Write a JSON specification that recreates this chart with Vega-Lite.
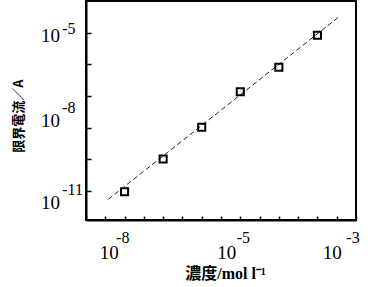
{
  "$schema": "https://vega.github.io/schema/vega-lite/v6.json",
  "width": 270,
  "height": 219,
  "autosize": "none",
  "padding": {"left": 86, "top": 1, "right": 14, "bottom": 67},
  "background": "white",
  "view": {"stroke": "black", "strokeWidth": 2},
  "config": {"axis": {"grid": false}},
  "datasets": {
    "pts": [
      {"conc": 1e-8, "current": 9.5e-11},
      {"conc": 1e-7, "current": 1.02e-9},
      {"conc": 1e-6, "current": 1.03e-8},
      {"conc": 1e-5, "current": 1.36e-7},
      {"conc": 1e-4, "current": 8.05e-7},
      {"conc": 1e-3, "current": 8.26e-6}
    ],
    "fit": [
      {"conc": 3.79e-9, "current": 5.46e-11},
      {"conc": 3.47e-3, "current": 3.05e-5}
    ]
  },
  "layer": [
    {
      "data": {"name": "fit"},
      "mark": {"type": "line", "stroke": "#222", "strokeWidth": 1, "strokeDash": [5, 3]},
      "encoding": {
        "x": {
          "field": "conc", "type": "quantitative",
          "scale": {"type": "log", "domain": [1e-9, 1e-2], "nice": false},
          "axis": {
            "orient": "bottom",
            "values": [1e-9, 3.1623e-9, 1e-8, 3.1623e-8, 1e-7, 3.1623e-7, 1e-6, 3.1623e-6, 1e-5, 3.1623e-5, 1e-4, 3.1623e-4, 1e-3, 3.1623e-3, 1e-2],
            "labels": false,
            "tickSize": -4, "tickWidth": 1.5, "tickColor": "black",
            "domainColor": "black", "domainWidth": 2,
            "title": "濃度/mol l⁻¹",
            "titleFont": "Liberation Serif, Noto Sans CJK JP",
            "titleFontSize": 16, "titleFontWeight": "bold", "titleColor": "black",
            "titleX": 139, "titleY": 53, "titleAlign": "center", "titleBaseline": "middle", "titleAngle": 0
          }
        },
        "y": {
          "field": "current", "type": "quantitative",
          "scale": {"type": "log", "domain": [1.21e-11, 1e-4], "nice": false},
          "axis": {
            "orient": "left",
            "values": [1e-5, 1e-6, 1e-7, 1e-8, 1e-9, 1e-10],
            "labels": false,
            "tickSize": -5, "tickWidth": 1.5, "tickColor": "black",
            "domainColor": "black", "domainWidth": 2,
            "title": "限界電流／A",
            "titleFont": "Noto Sans CJK JP",
            "titleFontSize": 13, "titleFontWeight": "bold", "titleColor": "black",
            "titleX": -67.7, "titleY": 114.7, "titleAlign": "center", "titleBaseline": "middle", "titleAngle": -90
          }
        }
      }
    },
    {
      "data": {"name": "pts"},
      "mark": {"type": "point", "shape": "square", "filled": false, "stroke": "black", "strokeWidth": 2, "size": 50, "opacity": 1},
      "encoding": {
        "x": {
          "field": "conc", "type": "quantitative",
          "axis": {
            "orient": "bottom",
            "values": [3.88e-9, 5.85e-9, 4.33e-6, 7.83e-6, 2.34e-3, 5.45e-3],
            "ticks": false, "domain": false, "title": null,
            "labelFlush": false, "labelOverlap": false, "labelBound": false,
            "labelFont": "Liberation Serif", "labelColor": "black",
            "labelBaseline": "middle",
            "labelExpr": "datum.value < 5e-9 ? '10' : datum.value < 1e-8 ? '-8' : datum.value < 6e-6 ? '10' : datum.value < 1e-5 ? '-5' : datum.value < 4e-3 ? '10' : '-3'",
            "labelAlign": {"condition": {"test": "datum.value < 5e-9 || (datum.value > 1e-6 && datum.value < 6e-6) || (datum.value > 1e-3 && datum.value < 4e-3)", "value": "center"}, "value": "left"},
            "labelPadding": {"condition": {"test": "datum.value < 5e-9 || (datum.value > 1e-6 && datum.value < 6e-6) || (datum.value > 1e-3 && datum.value < 4e-3)", "value": 32}, "value": 17},
            "labelFontSize": {"condition": {"test": "datum.value < 5e-9 || (datum.value > 1e-6 && datum.value < 6e-6) || (datum.value > 1e-3 && datum.value < 4e-3)", "value": 19}, "value": 16}
          }
        },
        "y": {
          "field": "current", "type": "quantitative",
          "axis": {
            "orient": "left",
            "values": [7.96e-6, 1.306e-5, 1.74e-8, 4.33e-8, 4.17e-11, 1.153e-10],
            "ticks": false, "domain": false, "title": null,
            "labelFlush": false, "labelOverlap": false, "labelBound": false,
            "labelFont": "Liberation Serif", "labelColor": "black",
            "labelBaseline": "middle",
            "labelExpr": "((datum.value > 7e-6 && datum.value < 9e-6) || (datum.value > 1e-8 && datum.value < 2e-8) || datum.value < 5e-11) ? '10' : datum.value > 1e-5 ? '-5' : datum.value > 1e-8 ? '-8' : '-11'",
            "labelAlign": {"condition": {"test": "(datum.value > 7e-6 && datum.value < 9e-6) || (datum.value > 1e-8 && datum.value < 2e-8) || datum.value < 5e-11", "value": "right"}, "value": "left"},
            "labelPadding": {"condition": {"test": "(datum.value > 7e-6 && datum.value < 9e-6) || (datum.value > 1e-8 && datum.value < 2e-8) || datum.value < 5e-11", "value": 26.5}, "value": 24.3},
            "labelFontSize": {"condition": {"test": "(datum.value > 7e-6 && datum.value < 9e-6) || (datum.value > 1e-8 && datum.value < 2e-8) || datum.value < 5e-11", "value": 19}, "value": 16}
          }
        }
      }
    }
  ],
  "resolve": {"axis": {"x": "independent", "y": "independent"}}
}
